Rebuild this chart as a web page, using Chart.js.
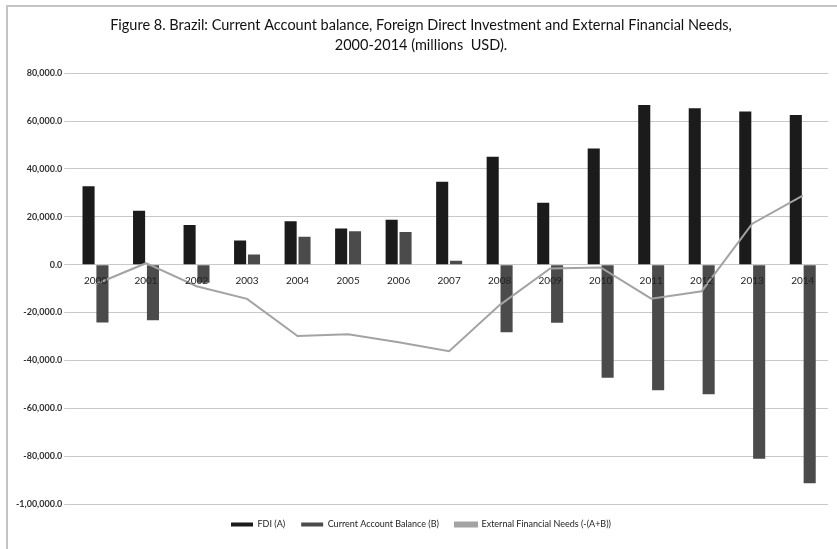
<!DOCTYPE html>
<html>
<head>
<meta charset="utf-8">
<script src="https://cdn.jsdelivr.net/npm/chart.js@4"></script>
<style>
  html, body { margin: 0; padding: 0; background: #fff; }
  #wrap { position: relative; width: 837px; height: 549px; }
  #frame { position: absolute; left: 6px; top: 5px; right: 0; bottom: 0;
           border-top: 2px solid #c4c4c4; border-left: 2px solid #c4c4c4; }
  #chart { position: absolute; left: 0; top: 0; }
</style>
</head>
<body>
<div id="wrap">
  <div id="frame"></div>
  <canvas id="chart" width="837" height="549"></canvas>
</div>
<script>
const years = ['2000', '2001', '2002', '2003', '2004', '2005', '2006', '2007',
               '2008', '2009', '2010', '2011', '2012', '2013', '2014'];
const fdi = [32800, 22500, 16600, 10100, 18100, 15100, 18800, 34600,
             45100, 25900, 48500, 66700, 65300, 64000, 62500];
const currentAccount = [-24200, -23200, -7600, 4200, 11700, 14000, 13600, 1600,
                        -28200, -24300, -47300, -52500, -54200, -81100, -91300];
const externalNeeds = [-8200, 600, -9000, -14300, -29800, -29100, -32400, -36200,
                       -16900, -1600, -1200, -14200, -11100, 17100, 28800];

const titleLines = ['Figure 8. Brazil: Current Account balance, Foreign Direct Investment and External Financial Needs,',
                    '2000-2014 (millions  USD).'];

// excel style number with indian grouping, e.g. -1,00,000.0
function fmt(v) {
    const neg = v < 0;
    let s = Math.abs(Math.round(v)).toString();
    if (s.length > 3) {
        let last = s.slice(-3);
        let rest = s.slice(0, -3).replace(/\B(?=(\d{2})+(?!\d))/g, ',');
        s = rest + ',' + last;
    }
    return (neg ? '-' : '') + s + '.0';
}

const ctx = document.getElementById('chart').getContext('2d');
new Chart(ctx, {
    type: 'bar',
    data: {
        labels: years,
        datasets: [
            {
                label: 'FDI (A)',
                data: fdi,
                backgroundColor: '#1b1b1b',
                order: 2
            },
            {
                label: 'Current Account Balance (B)',
                data: currentAccount,
                backgroundColor: '#4b4b4b',
                order: 2
            },
            {
                type: 'line',
                label: 'External Financial Needs (-(A+B))',
                data: externalNeeds,
                borderColor: '#a3a3a3',
                backgroundColor: '#a3a3a3',
                borderWidth: 2,
                pointRadius: 0,
                tension: 0,
                order: 1
            }
        ]
    },
    options: {
        responsive: false,
        animation: false,
        layout: { padding: { left: 14, right: 9, top: 10, bottom: 10 } },
        datasets: {
            bar: { categoryPercentage: 0.55, barPercentage: 0.87 }
        },
        scales: {
            x: {
                position: { y: 0 },
                grid: { display: false },
                border: { display: false },
                ticks: {
                    z: 1,
                    color: '#222',
                    font: { family: 'Lato', size: 10 },
                    padding: 2,
                    maxRotation: 0
                }
            },
            y: {
                min: -100000,
                max: 80000,
                grid: { color: '#c9c9c9', lineWidth: 1, drawTicks: true, tickLength: 6 },
                border: { display: false },
                ticks: {
                    stepSize: 20000,
                    color: '#333',
                    font: { family: 'Lato', size: 9, weight: 'bold' },
                    padding: 2,
                    callback: v => fmt(v)
                }
            }
        },
        plugins: {
            title: {
                display: true,
                text: titleLines,
                color: '#111',
                font: { family: 'Lato', size: 14.5, weight: 'normal', lineHeight: 1.35 },
                padding: { top: 6, bottom: 18 }
            },
            legend: {
                position: 'bottom',
                labels: {
                    color: '#222',
                    font: { family: 'Lato', size: 9 },
                    boxWidth: 22,
                    boxHeight: 4,
                    padding: 16,
                    sort: (a, b) => a.datasetIndex - b.datasetIndex
                }
            },
            tooltip: { enabled: false }
        }
    }
});
</script>
</body>
</html>
